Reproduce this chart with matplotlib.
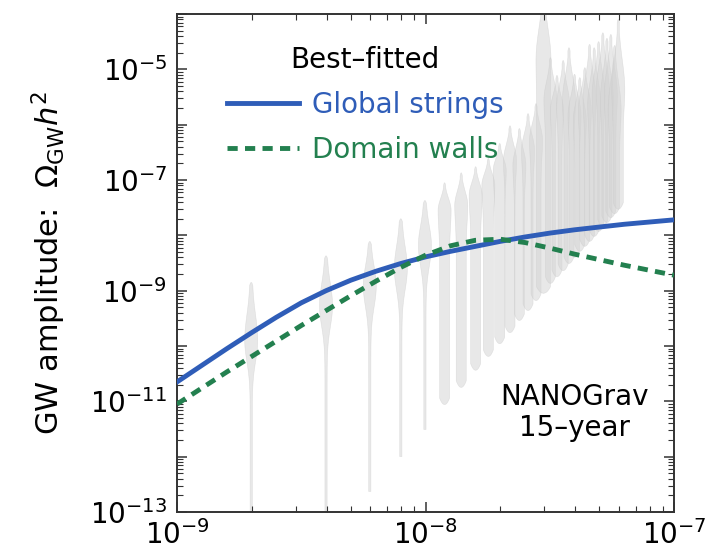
import numpy as np
import matplotlib
matplotlib.use('Agg')
import matplotlib.pyplot as plt
from matplotlib.ticker import LogLocator, FixedLocator, FuncFormatter, NullFormatter

plt.rcParams['font.family'] = ['DejaVu Sans']
plt.rcParams['mathtext.fontset'] = 'dejavusans'

# best-fit spectra, log10 f [Hz] vs log10 Omega_GW h^2
gs_logf = [-9.0, -8.9, -8.8, -8.7, -8.6, -8.5, -8.4, -8.3, -8.2, -8.1, -8.0,
           -7.9, -7.8, -7.7, -7.6, -7.5, -7.4, -7.3, -7.2, -7.1, -7.0]
gs_logom = [-10.65, -10.35, -10.05, -9.76, -9.48, -9.22, -9.00, -8.81, -8.65, -8.51, -8.39,
            -8.29, -8.20, -8.11, -8.03, -7.96, -7.90, -7.85, -7.80, -7.76, -7.72]
dw_logf = [-9.0, -8.9, -8.8, -8.7, -8.6, -8.5, -8.4, -8.3, -8.2, -8.1, -8.0,
           -7.9, -7.8, -7.7, -7.6, -7.5, -7.4, -7.3, -7.2, -7.1, -7.0]
dw_logom = [-11.05, -10.76, -10.47, -10.19, -9.91, -9.63, -9.36, -9.09, -8.83, -8.58, -8.36,
            -8.19, -8.09, -8.07, -8.13, -8.23, -8.34, -8.44, -8.54, -8.63, -8.72]

# NANOGrav 15-yr free-spectrum violins (frequency bins in nHz)
vio_fnhz = [1.98, 3.96, 5.94, 7.92, 9.90, 11.88, 13.86, 15.84, 17.82, 19.80,
            21.78, 23.76, 25.74, 27.72, 29.70, 31.68, 33.66, 35.64, 37.62, 39.60,
            41.58, 43.56, 45.54, 47.52, 49.50, 51.48, 53.46, 55.44, 57.42, 59.40]
vio_top = [-8.84, -8.36, -8.10, -7.69, -7.36, -7.04, -6.86, -6.75, -6.60, -6.33,
           -6.01, -6.06, -5.79, -5.61, -3.50, -4.78, -5.10, -4.83, -4.60, -5.08,
           -5.14, -4.96, -4.54, -4.60, -4.49, -4.33, -4.43, -4.36, -4.56, -4.09]
vio_mode = [-9.89, -9.26, -8.90, -8.59, -8.17, -7.54, -7.45, -7.27, -7.09, -6.82,
            -6.64, -6.73, -6.46, -6.28, -4.83, -5.55, -5.73, -5.64, -5.55, -5.83,
            -5.92, -5.73, -5.55, -5.64, -5.46, -5.37, -5.55, -5.46, -5.73, -5.37]
vio_bottom = [-13.5, -13.5, -12.62, -11.99, -11.50, -11.05, -10.74, -10.43, -10.18, -9.95,
              -9.75, -9.53, -9.35, -9.17, -9.04, -8.86, -8.74, -8.63, -8.50, -8.39,
              -8.28, -8.19, -8.10, -8.01, -7.92, -7.83, -7.76, -7.67, -7.60, -7.52]
n_peaked = 5

PX_PER_DEC = 248.5
blue = '#2f5db8'
green = '#23804f'


def violin_halfwidth(u, top, mode, bot, peaked, wide=False):
    """half width of a violin in pixels along log10 Omega"""
    if peaked:
        s = np.where(u > mode, (top - mode) / 2.3, 0.38)
        w = 1.1 + 5.4 * np.exp(-0.5 * ((u - mode) / s) ** 2)
    else:
        w_body = 7.0 if wide else 5.0
        w_pk = 7.5 if wide else 6.5
        s_up = (top - mode) / 2.3
        below = w_body + (w_pk - w_body) * np.exp(-0.5 * ((u - mode) / 0.3) ** 2)
        above = np.maximum(w_pk * np.exp(-0.5 * ((u - mode) / s_up) ** 2), 1.1)
        w = np.where(u < mode, below, above)
        w = w * np.sqrt(np.clip((u - bot) / 0.12, 0, 1))
    w = w * np.clip((top - u) / 0.06, 0, 1) ** 0.5
    return w


fig = plt.figure(figsize=(7.25, 5.54), dpi=100)
ax = fig.add_axes([177 / 725, 1 - 512 / 554, (674 - 177) / 725, (512 - 14) / 554])

for i, f in enumerate(vio_fnhz):
    top, mode, bot = vio_top[i], vio_mode[i], vio_bottom[i]
    u = np.linspace(bot, top, 500)
    w = violin_halfwidth(u, top, mode, bot, i < n_peaked, wide=(i == 14))
    dx = w / PX_PER_DEC
    fc = f * 1e-9
    ax.fill_betweenx(10 ** u, fc * 10 ** (-dx), fc * 10 ** dx,
                     facecolor='#d3d3d3', edgecolor='#c8c8c8', linewidth=0.4,
                     alpha=0.5, zorder=1)

ax.plot(10 ** np.array(gs_logf), 10 ** np.array(gs_logom), color=blue, lw=3.5,
        solid_joinstyle='round', zorder=3, label='Global strings')
ax.plot(10 ** np.array(dw_logf), 10 ** np.array(dw_logom), color=green, lw=3.5,
        dashes=(2.1, 1.5), zorder=3, label='Domain walls')

ax.set_xscale('log')
ax.set_yscale('log')
ax.set_xlim(1e-9, 1e-7)
ax.set_ylim(1e-13, 1e-4)

ax.xaxis.set_major_locator(FixedLocator([1e-9, 1e-8, 1e-7]))
ax.xaxis.set_minor_locator(LogLocator(base=10, subs=np.arange(2, 10), numticks=50))
ax.yaxis.set_major_locator(FixedLocator([10.0 ** e for e in range(-13, -3)]))
ax.yaxis.set_minor_locator(LogLocator(base=10, subs=np.arange(2, 10), numticks=200))
ax.xaxis.set_minor_formatter(NullFormatter())
ax.yaxis.set_minor_formatter(NullFormatter())


def ylab(v, pos):
    e = int(round(np.log10(v)))
    return r'$10^{%d}$' % e if e % 2 else ''


ax.yaxis.set_major_formatter(FuncFormatter(ylab))
ax.xaxis.set_major_formatter(FuncFormatter(lambda v, p: r'$10^{%d}$' % int(round(np.log10(v)))))

ax.tick_params(which='both', direction='in', top=True, right=True, colors='0.2', labelcolor='black')
ax.tick_params(which='major', length=7, width=1.1, labelsize=20)
ax.tick_params(which='minor', length=4, width=0.8)
ax.tick_params(axis='y', pad=7)
ax.tick_params(axis='x', pad=6)
for sp in ax.spines.values():
    sp.set_color('0.2')
    sp.set_linewidth(1.4)

ax.set_ylabel(r'GW amplitude:  $\Omega_{\rm GW}h^2$', fontsize=22, labelpad=16)

leg = ax.legend(title='Best–fitted', loc='upper left', bbox_to_anchor=(0.05, 0.985),
                frameon=False, fontsize=20, title_fontsize=20, labelcolor='linecolor',
                handlelength=2.6, handletextpad=0.45, labelspacing=0.6)

ax.text(0.8, 0.2, 'NANOGrav\n15–year', transform=ax.transAxes, ha='center', va='center',
        fontsize=20, linespacing=1.15)

fig.savefig('out.png', dpi=100)
